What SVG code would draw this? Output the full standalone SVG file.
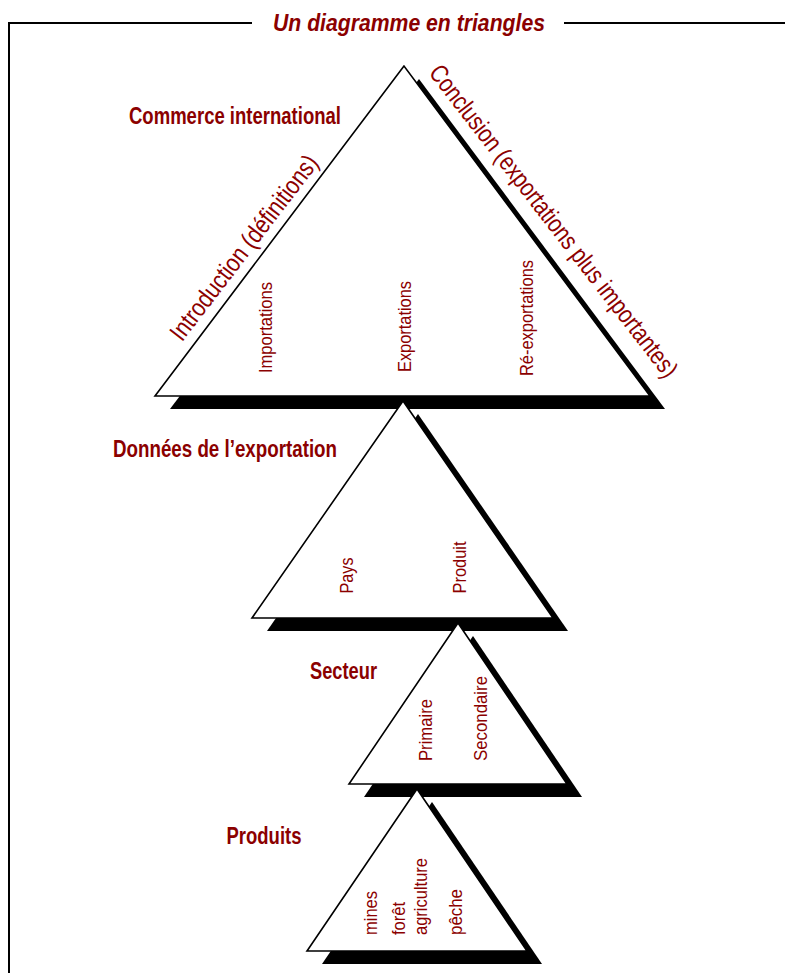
<svg xmlns="http://www.w3.org/2000/svg" width="785" height="973" viewBox="0 0 785 973">
<style>
.frame{stroke:#000;stroke-width:2;fill:none}
.tri{fill:#fff;stroke:#000;stroke-width:1.6;stroke-linejoin:miter}
.sh{fill:#000}
.lbl{font-family:"Liberation Sans",Arial,sans-serif;font-size:23px;font-weight:bold;fill:#8B0000}
.ttl{font-family:"Liberation Sans",Arial,sans-serif;font-size:24px;font-weight:bold;font-style:italic;fill:#8B0000}
.edge{font-family:"Liberation Sans",Arial,sans-serif;font-size:25.5px;fill:#8B0000}
.v{font-family:"Liberation Sans",Arial,sans-serif;font-size:18.5px;fill:#8B0000}
</style>
<rect width="785" height="973" fill="#fff"/>
<g id="frame">
<polyline class="frame" points="252,23 9,23 9,973"/>
<line class="frame" x1="564" y1="23" x2="785" y2="23"/>
<text class="ttl" x="273" y="31" textLength="272" lengthAdjust="spacingAndGlyphs">Un diagramme en triangles</text>
</g>
<g id="connectors"/>
<g id="t1">
<polygon class="sh" points="419,79 170,409 665,409"/>
<polygon class="tri" points="404,66 155,396 650,396"/>
<text class="lbl" x="129" y="124" textLength="212" lengthAdjust="spacingAndGlyphs">Commerce international</text>
<text class="edge" transform="translate(182,342.5) rotate(-52.5)" textLength="226" lengthAdjust="spacingAndGlyphs">Introduction (définitions)</text>
<text class="edge" transform="translate(428,73) rotate(52.2)" textLength="388" lengthAdjust="spacingAndGlyphs">Conclusion (exportations plus importantes)</text>
<text class="v" transform="translate(271.5,373) rotate(-90)" textLength="91" lengthAdjust="spacingAndGlyphs">Importations</text>
<text class="v" transform="translate(410.5,372) rotate(-90)" textLength="91" lengthAdjust="spacingAndGlyphs">Exportations</text>
<text class="v" transform="translate(532.5,376) rotate(-90)" textLength="116" lengthAdjust="spacingAndGlyphs">Ré-exportations</text>
</g>
<g id="t2">
<polygon class="sh" points="418,414 267,631 568,631"/>
<polygon class="tri" points="403,401 252,618 553,618"/>
<text class="lbl" x="113" y="457" textLength="224" lengthAdjust="spacingAndGlyphs">Données de l’exportation</text>
<text class="v" transform="translate(353,593.5) rotate(-90)" textLength="36" lengthAdjust="spacingAndGlyphs">Pays</text>
<text class="v" transform="translate(465.5,593.5) rotate(-90)" textLength="52" lengthAdjust="spacingAndGlyphs">Produit</text>
</g>
<g id="t3">
<polygon class="sh" points="473,636 364,797 582,797"/>
<polygon class="tri" points="458,623 349,784 567,784"/>
<text class="lbl" x="310" y="679" textLength="67" lengthAdjust="spacingAndGlyphs">Secteur</text>
<text class="v" transform="translate(431.5,761) rotate(-90)" textLength="62" lengthAdjust="spacingAndGlyphs">Primaire</text>
<text class="v" transform="translate(486.5,761) rotate(-90)" textLength="85" lengthAdjust="spacingAndGlyphs">Secondaire</text>
</g>
<g id="t4">
<polygon class="sh" points="432,802 322,964 542,964"/>
<polygon class="tri" points="417,789 307,951 527,951"/>
<text class="lbl" x="226.5" y="844" textLength="75" lengthAdjust="spacingAndGlyphs">Produits</text>
<text class="v" transform="translate(376.5,935) rotate(-90)" textLength="44" lengthAdjust="spacingAndGlyphs">mines</text>
<text class="v" transform="translate(404.5,935) rotate(-90)" textLength="33" lengthAdjust="spacingAndGlyphs">forêt</text>
<text class="v" transform="translate(426.5,935) rotate(-90)" textLength="77" lengthAdjust="spacingAndGlyphs">agriculture</text>
<text class="v" transform="translate(461.5,935) rotate(-90)" textLength="46" lengthAdjust="spacingAndGlyphs">pêche</text>
</g>
</svg>
